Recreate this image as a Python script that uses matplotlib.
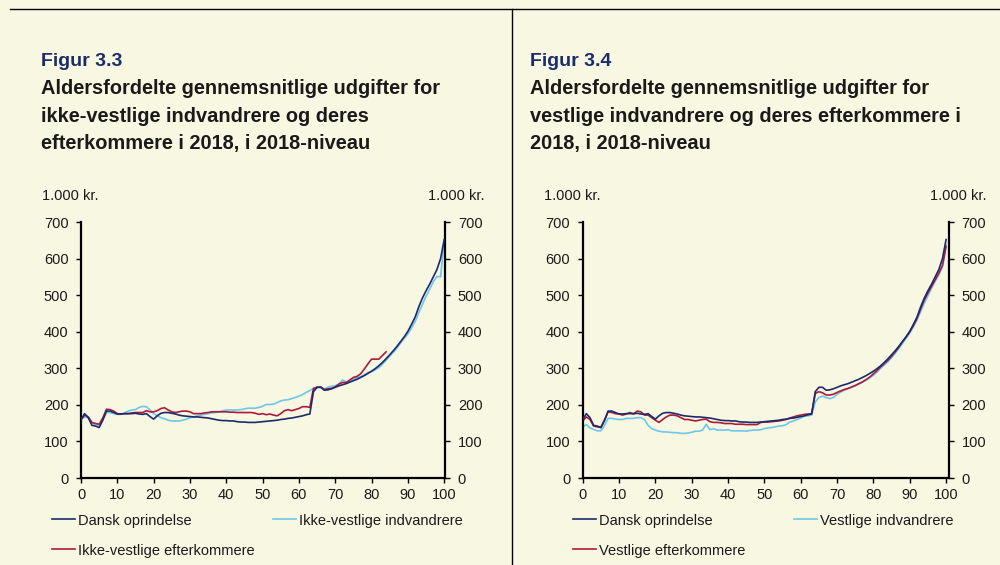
import matplotlib
matplotlib.use("Agg")
import matplotlib.pyplot as plt
from matplotlib.lines import Line2D

plt.rcParams['font.family'] = ['Liberation Sans', 'DejaVu Sans']

# ---------------- data ----------------
ages = list(range(0, 101))
ages_efter_left = list(range(0, 85))

dansk = [160, 176, 165, 144, 142, 138, 158, 183, 183, 179,
         175, 175, 176, 176, 176, 177, 175, 174, 176, 168,
         161, 170, 177, 179, 179, 177, 175, 172, 170, 169,
         168, 167, 167, 166, 165, 164, 162, 160, 158, 157,
         157, 156, 156, 154, 153, 153, 152, 152, 152, 153,
         154, 155, 156, 157, 158, 160, 161, 163, 164, 166,
         168, 170, 173, 175, 236, 248, 248, 240, 241, 244,
         248, 252, 255, 258, 262, 266, 270, 275, 280, 286,
         292, 299, 307, 316, 326, 337, 348, 360, 373, 386,
         401, 420, 440, 468, 492, 512, 530, 550, 570, 600,
         652]

ikke_vest_indv = [160, 167, 165, 151, 146, 144, 160, 179, 179, 176,
                  174, 174, 178, 183, 186, 187, 193, 196, 195, 186,
                  176, 170, 165, 162, 158, 156, 156, 156, 158, 161,
                  165, 167, 170, 172, 174, 176, 178, 179, 181, 184,
                  186, 186, 186, 186, 187, 189, 191, 191, 191, 193,
                  196, 201, 201, 202, 206, 211, 213, 214, 217, 220,
                  224, 228, 234, 239, 245, 248, 248, 243, 248, 251,
                  252, 257, 268, 263, 265, 270, 274, 277, 282, 288,
                  291, 296, 302, 311, 322, 333, 344, 356, 369, 382,
                  394, 410, 428, 452, 475, 497, 516, 537, 551, 550,
                  652]

ikke_vest_efter = [160, 172, 167, 152, 149, 147, 164, 188, 187, 183,
                   176, 175, 176, 176, 178, 179, 179, 179, 184, 181,
                   181, 184, 190, 192, 186, 181, 179, 181, 183, 183,
                   181, 176, 176, 176, 178, 179, 181, 181, 181, 181,
                   181, 180, 180, 179, 179, 179, 179, 179, 177, 174,
                   176, 173, 175, 172, 170, 176, 184, 187, 184, 187,
                   190, 195, 195, 193, 245, 248, 249, 242, 244, 245,
                   249, 257, 261, 261, 268, 275, 278, 285, 298, 312,
                   325, 325, 325, 335, 345]

vest_indv = [140, 146, 137, 133, 129, 129, 144, 163, 163, 161,
             160, 160, 163, 163, 163, 165, 165, 160, 144, 135,
             131, 128, 126, 126, 125, 124, 124, 122, 122, 123,
             125, 128, 128, 131, 147, 132, 135, 131, 131, 131,
             132, 129, 129, 129, 129, 128, 130, 131, 131, 132,
             135, 137, 138, 140, 142, 143, 146, 153, 156, 160,
             164, 169, 170, 172, 208, 220, 224, 220, 217, 220,
             229, 235, 240, 244, 248, 252, 257, 262, 268, 274,
             281, 290, 300, 309, 318, 329, 341, 354, 368, 382,
             396, 413, 432, 455, 478, 498, 519, 538, 556, 577,
             638]

vest_efter = [156, 167, 160, 142, 140, 138, 158, 181, 179, 176,
              175, 172, 175, 179, 175, 183, 181, 172, 172, 165,
              158, 152, 160, 167, 172, 172, 170, 165, 160, 160,
              158, 156, 158, 160, 161, 154, 152, 152, 151, 149,
              149, 149, 147, 147, 147, 146, 146, 146, 146, 152,
              153, 153, 154, 155, 156, 158, 160, 164, 167, 170,
              172, 174, 175, 176, 231, 236, 233, 227, 227, 229,
              234, 238, 242, 245, 249, 253, 258, 263, 269, 276,
              285, 294, 304, 313, 322, 333, 345, 358, 373, 386,
              400, 417, 437, 462, 487, 506, 524, 542, 560, 581,
              633]

yticks = [0, 100, 200, 300, 400, 500, 600, 700]
xticks = [0, 10, 20, 30, 40, 50, 60, 70, 80, 90, 100]

fig_labels = ["Figur 3.3", "Figur 3.4"]
titles = [["Aldersfordelte gennemsnitlige udgifter for",
           "ikke-vestlige indvandrere og deres",
           "efterkommere i 2018, i 2018-niveau"],
          ["Aldersfordelte gennemsnitlige udgifter for",
           "vestlige indvandrere og deres efterkommere i",
           "2018, i 2018-niveau"]]
legend_labels = [["Dansk oprindelse", "Ikke-vestlige indvandrere", "Ikke-vestlige efterkommere"],
                 ["Dansk oprindelse", "Vestlige indvandrere", "Vestlige efterkommere"]]
unit = "1.000 kr."

# ---------------- style ----------------
BG = '#f8f7e1'
NAVY = '#1b2b6c'
LBLUE = '#6ec6ea'
RED = '#ad1a3c'
FIGBLUE = '#1a2d6b'
TXT = '#1a1a1a'

W, H = 1000, 565
fig = plt.figure(figsize=(10, 5.65), dpi=100, facecolor=BG)


def fx(px):
    return px / W


def fy(py):
    return 1 - py / H


# frame lines
fig.add_artist(Line2D([fx(10), fx(1000)], [fy(9), fy(9)], color='black', lw=1.0))
fig.add_artist(Line2D([fx(512), fx(512)], [fy(9), fy(565)], color='black', lw=1.0))

panels = [
    dict(left=81, right=445.3, xmax=100.3, text_x=41, unit_l=41.7, unit_r=484,
         series=[(ages, dansk, NAVY), (ages, ikke_vest_indv, LBLUE), (ages_efter_left, ikke_vest_efter, RED)],
         leg=[(52, 78, 519), (273, 299, 519), (52, 78, 549)]),
    dict(left=582.7, right=949, xmax=100.8, text_x=530, unit_l=544, unit_r=987,
         series=[(ages, dansk, NAVY), (ages, vest_indv, LBLUE), (ages, vest_efter, RED)],
         leg=[(573, 599, 519), (794, 820, 519), (573, 599, 549)]),
]

top_px, bot_px = 222, 478

for i, p in enumerate(panels):
    ax = fig.add_axes([fx(p['left']), fy(bot_px), (p['right'] - p['left']) / W, (bot_px - top_px) / H])
    ax.set_facecolor(BG)
    order = [1, 2, 0]
    for k in order:
        xs, ys, c = p['series'][k]
        ax.plot(xs, ys, color=c, lw=1.2, zorder=3 if k == 0 else 2)
    ax.set_xlim(0, p['xmax'])
    ax.set_ylim(0, 700)
    ax.set_xticks(xticks)
    ax.set_yticks(yticks)
    ax.spines['top'].set_visible(False)
    for s in ['left', 'right', 'bottom']:
        ax.spines[s].set_linewidth(1.6)
        ax.spines[s].set_color('black')
    ax.tick_params(axis='y', which='both', direction='out', length=3.5, width=1.0,
                   left=True, right=True, labelleft=True, labelright=True,
                   labelsize=10.5, pad=5.5, colors='black', labelcolor=TXT)
    ax.tick_params(axis='x', direction='out', length=3.5, width=1.0,
                   labelsize=10.5, pad=4, colors='black', labelcolor=TXT)

    # header texts
    fig.text(fx(p['text_x']), fy(66), fig_labels[i], fontsize=14, fontweight='bold',
             color=FIGBLUE, ha='left', va='baseline')
    for j, line in enumerate(titles[i]):
        fig.text(fx(p['text_x']), fy(94.3 + j * 27.5), line, fontsize=14.4, fontweight='bold',
                 color=TXT, ha='left', va='baseline')
    fig.text(fx(p['unit_l']), fy(200.5), unit, fontsize=10.5, color=TXT, ha='left', va='baseline')
    fig.text(fx(p['unit_r']), fy(200.5), unit, fontsize=10.5, color=TXT, ha='right', va='baseline')

    # legend
    for k, (hx, tx, yy) in enumerate(p['leg']):
        c = p['series'][k][2]
        fig.add_artist(Line2D([fx(hx), fx(hx + 23)], [fy(yy), fy(yy)], color=c, lw=1.2))
        fig.text(fx(tx), fy(yy), legend_labels[i][k], fontsize=10.5, color=TXT,
                 ha='left', va='center_baseline')

fig.savefig('out.png', dpi=100, facecolor=BG)
